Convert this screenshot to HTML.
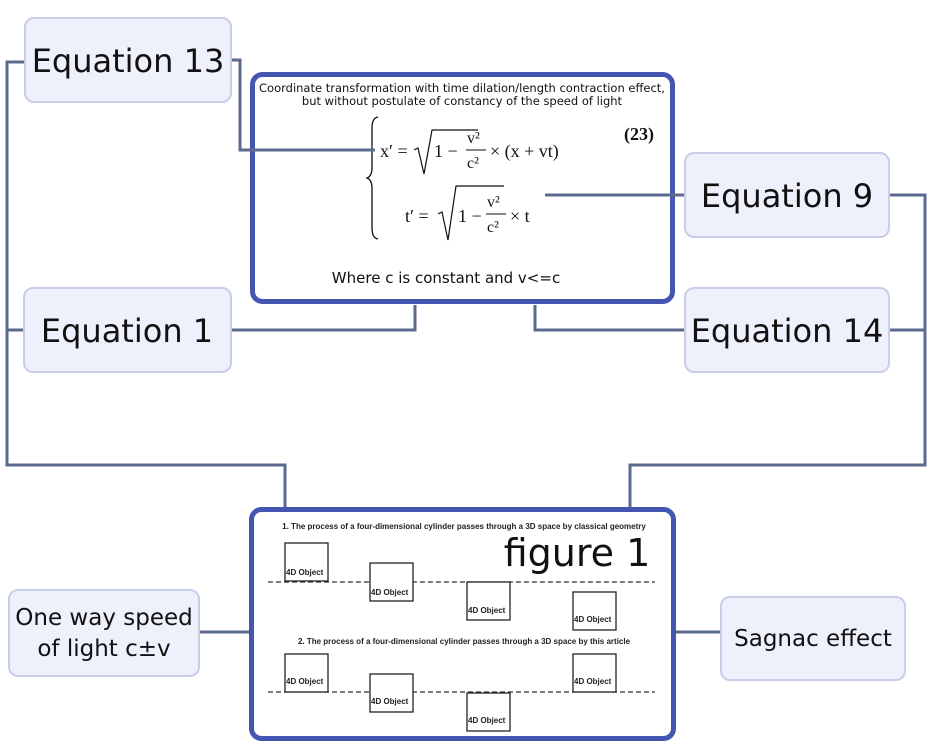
<!DOCTYPE html>
<html><head><meta charset="utf-8"><style>
html,body{margin:0;padding:0;background:#fff;width:933px;height:750px;overflow:hidden}
svg{display:block}
.node{fill:#eef0fb;stroke:#c8cdea;stroke-width:2}
.lbl{font-family:"DejaVu Sans","Liberation Sans",sans-serif;fill:#111}
.c{stroke:#5b6a8e;stroke-width:3;fill:none}
.m{font-family:"Liberation Serif",serif;fill:#111}
.ob{fill:#fff;stroke:#222;stroke-width:1.3}
.ot{font-family:"Liberation Sans",sans-serif;font-weight:bold;font-size:8px;fill:#222}
.dl{stroke:#333;stroke-width:1.3;stroke-dasharray:5,3}
</style></head><body>
<svg width="933" height="750" viewBox="0 0 933 750">
<!-- top box -->
<rect x="252.5" y="74.5" width="420" height="227" rx="10" fill="#fff" stroke="#4556b0" stroke-width="5"/>
<text x="462" y="92" text-anchor="middle" class="lbl" font-size="11.5">Coordinate transformation with time dilation/length contraction effect,</text>
<text x="462" y="105" text-anchor="middle" class="lbl" font-size="11.5">but without postulate of constancy of the speed of light</text>
<path d="M378 117 Q372 118 372 128 V168 Q372 176 367 178 Q372 180 372 188 V228 Q372 238 378 239" stroke="#111" stroke-width="1.3" fill="none"/>
<text x="380" y="157" class="m" font-size="18">x′ =</text>
<path d="M414 150 L418 148 L424 174 L432 130 H478" stroke="#111" stroke-width="1.2" fill="none"/>
<text x="434" y="157" class="m" font-size="18">1 −</text>
<text x="467" y="143" class="m" font-size="16">v²</text>
<line x1="466" y1="150" x2="486" y2="150" stroke="#111" stroke-width="1"/>
<text x="467" y="168" class="m" font-size="16">c²</text>
<text x="490" y="157" class="m" font-size="18">× (x + vt)</text>
<text x="624" y="140" class="m" font-size="18" font-weight="bold">(23)</text>
<text x="405" y="222" class="m" font-size="18">t′ =</text>
<path d="M438 214 L442 212 L448 240 L456 186 H504" stroke="#111" stroke-width="1.2" fill="none"/>
<text x="458" y="222" class="m" font-size="18">1 −</text>
<text x="487" y="207" class="m" font-size="16">v²</text>
<line x1="486" y1="214" x2="506" y2="214" stroke="#111" stroke-width="1"/>
<text x="487" y="232" class="m" font-size="16">c²</text>
<text x="510" y="222" class="m" font-size="18">× t</text>
<text x="446" y="283" text-anchor="middle" class="lbl" font-size="15">Where c is constant and v&lt;=c</text>

<!-- bottom box -->
<rect x="251.5" y="509.5" width="422" height="229" rx="10" fill="#fff" stroke="#4556b0" stroke-width="5"/>
<text x="464" y="529" text-anchor="middle" class="ot" font-size="7.5">1. The process of a four-dimensional cylinder passes through a 3D space by classical geometry</text>
<text x="577" y="566" text-anchor="middle" class="lbl" font-size="38">figure  1</text>
<line class="dl" x1="268" y1="582" x2="655" y2="582"/>
<rect class="ob" x="285" y="543" width="43" height="38"/><text x="286" y="575" class="ot">4D Object</text>
<rect class="ob" x="370" y="563" width="43" height="38"/><text x="371" y="595" class="ot">4D Object</text>
<rect class="ob" x="467" y="582" width="43" height="38"/><text x="468" y="613" class="ot">4D Object</text>
<rect class="ob" x="573" y="592" width="43" height="38"/><text x="574" y="622" class="ot">4D Object</text>
<text x="464" y="644" text-anchor="middle" class="ot" font-size="7.5">2. The process of a four-dimensional cylinder passes through a 3D space by this article</text>
<line class="dl" x1="268" y1="692" x2="655" y2="692"/>
<rect class="ob" x="285" y="654" width="43" height="38"/><text x="286" y="684" class="ot">4D Object</text>
<rect class="ob" x="370" y="674" width="43" height="38"/><text x="371" y="704" class="ot">4D Object</text>
<rect class="ob" x="467" y="693" width="43" height="38"/><text x="468" y="723" class="ot">4D Object</text>
<rect class="ob" x="573" y="654" width="43" height="38"/><text x="574" y="684" class="ot">4D Object</text>

<!-- connectors -->
<path class="c" d="M25 62 H7 V465 H285 V507"/>
<path class="c" d="M24 330 H7"/>
<path class="c" d="M231 60 H240 V150 H375"/>
<path class="c" d="M231 330 H415 V305"/>
<path class="c" d="M685 195 H545"/>
<path class="c" d="M685 330 H535 V305"/>
<path class="c" d="M889 195 H925 V465 H630 V507"/>
<path class="c" d="M889 330 H925"/>
<path class="c" d="M199 632 H249"/>
<path class="c" d="M721 632 H676"/>

<!-- nodes -->
<rect class="node" x="25" y="18" width="206" height="84" rx="9"/>
<text x="128" y="72" text-anchor="middle" class="lbl" font-size="32">Equation 13</text>
<rect class="node" x="24" y="288" width="207" height="84" rx="9"/>
<text x="127" y="342" text-anchor="middle" class="lbl" font-size="32">Equation 1</text>
<rect class="node" x="685" y="153" width="204" height="84" rx="9"/>
<text x="787" y="207" text-anchor="middle" class="lbl" font-size="32">Equation 9</text>
<rect class="node" x="685" y="288" width="204" height="84" rx="9"/>
<text x="787" y="342" text-anchor="middle" class="lbl" font-size="32">Equation 14</text>
<rect class="node" x="9" y="590" width="190" height="86" rx="9"/>
<text x="104" y="625" text-anchor="middle" class="lbl" font-size="23">One way speed</text>
<text x="104" y="656" text-anchor="middle" class="lbl" font-size="23">of light c±v</text>
<rect class="node" x="721" y="597" width="184" height="83" rx="9"/>
<text x="813" y="646" text-anchor="middle" class="lbl" font-size="23">Sagnac effect</text>
</svg>
</body></html>
